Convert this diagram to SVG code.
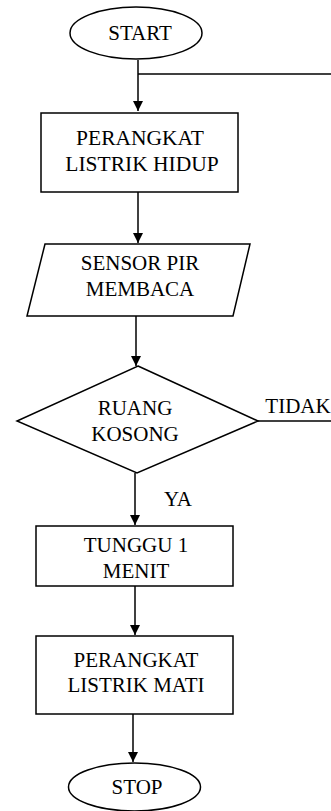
<svg xmlns="http://www.w3.org/2000/svg" width="331" height="811" viewBox="0 0 331 811">
<defs>
<style>
.s{fill:#fff;stroke:#000;stroke-width:1.5}
.c{fill:none;stroke:#000;stroke-width:1.5}
text{font-family:'Liberation Serif','Times New Roman',serif;font-size:21px;fill:#000;text-anchor:middle}
</style>
<marker id="ah" markerWidth="10" markerHeight="12" refX="10" refY="5" orient="auto" markerUnits="userSpaceOnUse" viewBox="0 0 10 10">
<path d="M0,0 L10,5 L0,10 Z" fill="#000"/>
</marker>
</defs>
<g id="connectors">
<line class="c" x1="138" y1="60" x2="138" y2="111" marker-end="url(#ah)"/>
<line class="c" x1="138" y1="74" x2="331" y2="74"/>
<line class="c" x1="138" y1="192" x2="138" y2="243" marker-end="url(#ah)"/>
<line class="c" x1="136" y1="316" x2="136" y2="366" marker-end="url(#ah)"/>
<line class="c" x1="258" y1="421" x2="331" y2="421"/>
<line class="c" x1="135" y1="473" x2="135" y2="525" marker-end="url(#ah)"/>
<line class="c" x1="135" y1="586" x2="135" y2="635" marker-end="url(#ah)"/>
<line class="c" x1="133" y1="714" x2="133" y2="762" marker-end="url(#ah)"/>
<text x="298" y="413">TIDAK</text>
<text x="178" y="506">YA</text>
</g>
<g id="start">
<ellipse class="s" cx="136" cy="33" rx="66" ry="26"/>
<text x="140" y="40">START</text>
</g>
<g id="hidup">
<rect class="s" x="41" y="113" width="197" height="79"/>
<text x="140" y="145" style="font-size:21.5px">PERANGKAT</text>
<text x="142" y="171" style="font-size:21.5px">LISTRIK HIDUP</text>
</g>
<g id="sensor">
<polygon class="s" points="45,244 250,244 233,316 27,316"/>
<text x="140" y="270">SENSOR PIR</text>
<text x="140" y="296">MEMBACA</text>
</g>
<g id="ruang">
<polygon class="s" points="138,366 258,421 137,473 17,421"/>
<text x="135" y="415">RUANG</text>
<text x="135" y="441">KOSONG</text>
</g>
<g id="tunggu">
<rect class="s" x="36" y="526" width="197" height="60"/>
<text x="136" y="552">TUNGGU 1</text>
<text x="136" y="578">MENIT</text>
</g>
<g id="mati">
<rect class="s" x="36" y="636" width="197" height="78"/>
<text x="136" y="667">PERANGKAT</text>
<text x="136" y="692">LISTRIK MATI</text>
</g>
<g id="stop">
<ellipse class="s" cx="134.5" cy="787" rx="66" ry="24"/>
<text x="137" y="794">STOP</text>
</g>
</svg>
